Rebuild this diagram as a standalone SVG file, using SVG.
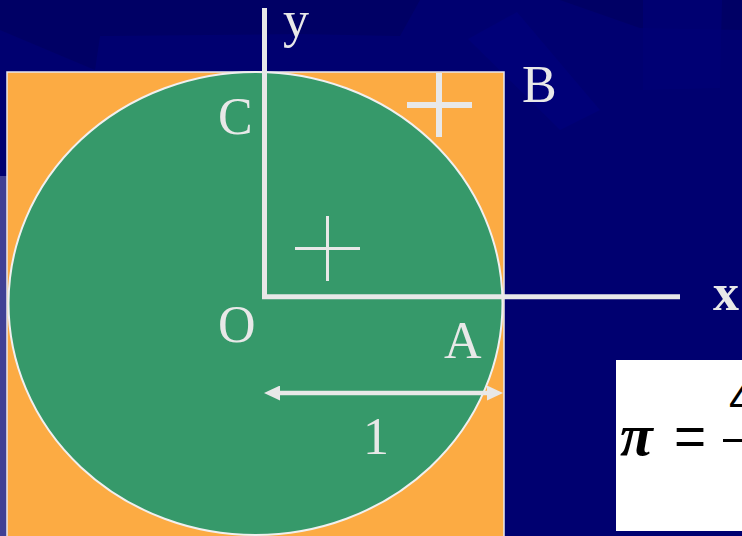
<svg xmlns="http://www.w3.org/2000/svg" width="742" height="536" viewBox="0 0 742 536">
<style>
.lbl{font-family:"Liberation Serif","Times New Roman",serif;font-size:52px;fill:#E8E8E8}
.ax{stroke:#E8E8E8;fill:none}
</style>
<defs>
<marker id="ah" viewBox="0 0 16 15" refX="0" refY="7.5" markerWidth="16" markerHeight="15" orient="auto-start-reverse" markerUnits="userSpaceOnUse">
<path d="M0,0 L16,7.5 L0,15 z" fill="#E8E8E8"/>
</marker>
</defs>
<g id="background">
<rect x="0" y="0" width="742" height="536" fill="#000070"/>
<polygon points="0,0 742,0 742,30 640,28 560,0 420,0 400,36 300,34 100,36 95,70 0,30" fill="#00005E" opacity="0.6"/>
<polygon points="517,12 600,110 560,130 468,39" fill="#000078"/>
<polygon points="643,0 722,0 720,88 643,90" fill="#000076" opacity="0.7"/>
<rect x="0" y="176" width="7" height="360" fill="#404094"/>
</g>
<g id="square">
<rect x="7" y="72" width="497" height="466" fill="#FCAB43" stroke="#E8E8F0" stroke-width="1.5"/>
</g>
<g id="circle">
<ellipse cx="255.5" cy="303.5" rx="247" ry="231.5" fill="#36996A" stroke="#F0F0F0" stroke-width="2"/>
</g>
<g id="connectors">
<line class="ax" x1="264.5" y1="8" x2="264.5" y2="299" stroke-width="5"/>
<line class="ax" x1="262" y1="296.8" x2="680" y2="296.8" stroke-width="5"/>
<line class="ax" x1="280" y1="393" x2="487" y2="393" stroke-width="4.5" marker-start="url(#ah)" marker-end="url(#ah)"/>
</g>
<g id="plus-B">
<line class="ax" x1="439" y1="73" x2="439" y2="137" stroke-width="6"/>
<line class="ax" x1="407" y1="105" x2="472" y2="105" stroke-width="6"/>
</g>
<g id="plus-inner">
<line class="ax" x1="327.5" y1="216" x2="327.5" y2="281" stroke-width="3"/>
<line class="ax" x1="295" y1="248.5" x2="360" y2="248.5" stroke-width="3"/>
</g>
<g id="labels">
<text class="lbl" x="283" y="37">y</text>
<text class="lbl" x="522" y="102">B</text>
<text class="lbl" x="218" y="134">C</text>
<text class="lbl" x="218" y="342">O</text>
<text class="lbl" x="444" y="358">A</text>
<text class="lbl" x="363" y="454">1</text>
<text class="lbl" x="713" y="310" font-weight="bold">x</text>
</g>
<g id="formula">
<rect x="616" y="360" width="130" height="171" fill="#FFFFFF"/>
<text x="620" y="455" font-family="Liberation Serif,Times New Roman,serif" font-style="italic" font-weight="bold" font-size="60" fill="#000">π</text>
<text x="674" y="455" font-family="Liberation Sans,Arial,sans-serif" font-size="55" fill="#000">=</text>
<line x1="723" y1="440.5" x2="742" y2="440.5" stroke="#000" stroke-width="3"/>
<text x="729" y="414" font-family="Liberation Sans,Arial,sans-serif" font-size="44" fill="#000">4</text>
</g>
</svg>
